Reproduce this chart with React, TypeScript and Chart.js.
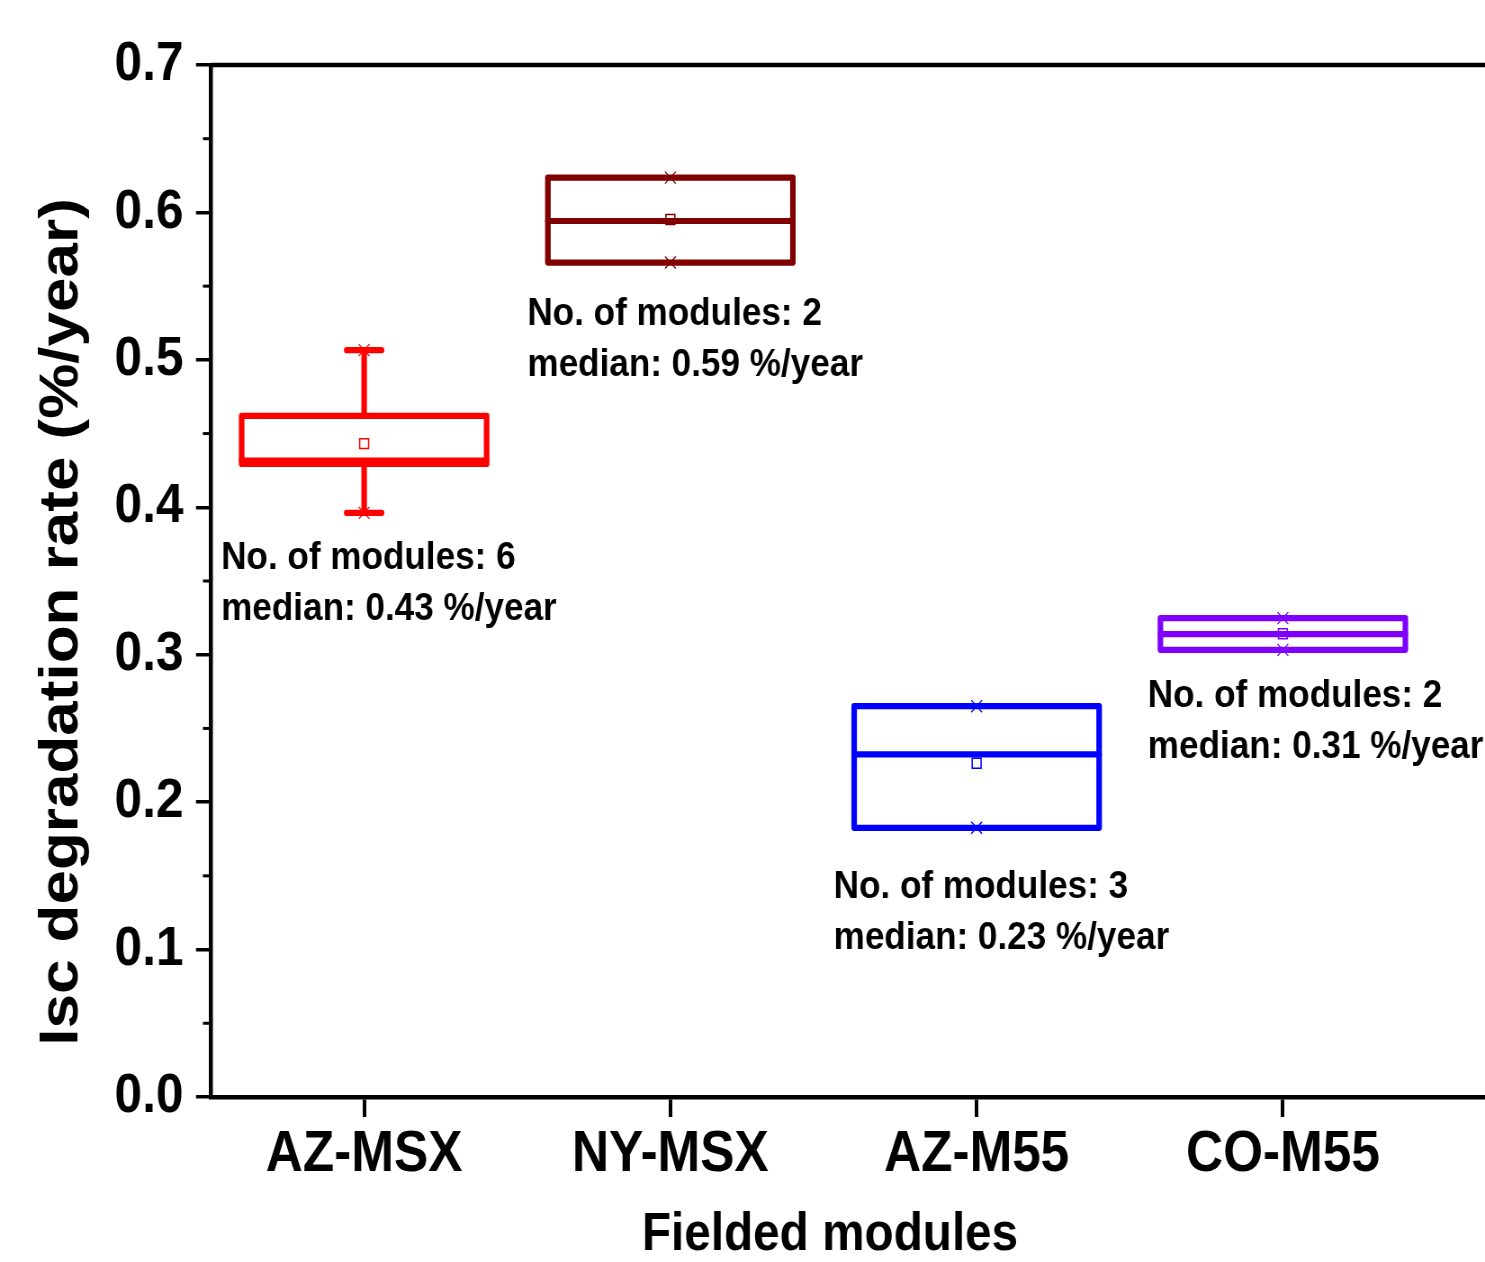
import { useEffect, useRef } from 'react';
import { Chart, registerables } from 'chart.js';

Chart.register(...registerables);

// ---- data ----
const categories = ['AZ-MSX', 'NY-MSX', 'AZ-M55', 'CO-M55'];
const q1Values = [0.4294, 0.566, 0.1826, 0.3033];
const medianValues = [0.4317, 0.5942, 0.2324, 0.3139];
const q3Values = [0.462, 0.6236, 0.2651, 0.3248];
const whiskerLow = [0.3962, 0.566, 0.1826, 0.3033];
const whiskerHigh = [0.5066, 0.6236, 0.2651, 0.3248];
const meanValues = [0.4432, 0.5952, 0.2264, 0.3142];
const minValues = [0.3962, 0.566, 0.1826, 0.3033];
const maxValues = [0.5066, 0.6236, 0.2651, 0.3248];
const moduleCounts = [6, 2, 3, 2];
const medianText = ['0.43', '0.59', '0.23', '0.31'];
const yTickValues = [0, 0.1, 0.2, 0.3, 0.4, 0.5, 0.6, 0.7];
const yMinorTicks = [0.05, 0.15, 0.25, 0.35, 0.45, 0.55, 0.65];
// annotation anchors (data space)
const noteX = [0.533, 1.533, 2.533, 3.559];
const noteY = [0.3582, 0.5238, 0.135, 0.2646];

const boxColors = ['#FF0000', '#800000', '#0000FF', '#8000FF'];

// ---- layout ----
const SX = 0.9; // reference is horizontally squeezed
const CSS_W = 1485;
const CSS_H = 1262;
const W = Math.round(CSS_W / SX);
const H = CSS_H;
const FONT = "'Liberation Sans', Arial, Helvetica, sans-serif";
const BOX_HALF = 0.4;
const CAP_HALF = 0.057;

export default function App() {
  const ref = useRef<HTMLCanvasElement>(null);

  useEffect(() => {
    const canvas = ref.current;
    if (!canvas) return;

    const boxPlugin = {
      id: 'boxPlot',
      beforeDatasetsDraw(chart: any) {
        const { ctx, scales } = chart;
        const x = scales.x;
        const y = scales.y;
        ctx.save();
        ctx.lineJoin = 'round';
        ctx.lineCap = 'round';
        categories.forEach((_, i) => {
          const c = i + 1;
          const xl = x.getPixelForValue(c - BOX_HALF);
          const xr = x.getPixelForValue(c + BOX_HALF);
          const xc = x.getPixelForValue(c);
          const yq1 = y.getPixelForValue(q1Values[i]);
          const yq3 = y.getPixelForValue(q3Values[i]);
          const ym = y.getPixelForValue(medianValues[i]);
          ctx.strokeStyle = boxColors[i];
          ctx.lineWidth = 6.2;
          // whiskers
          if (whiskerHigh[i] > q3Values[i] + 1e-6) {
            const yh = y.getPixelForValue(whiskerHigh[i]);
            ctx.beginPath();
            ctx.moveTo(xc, yq3);
            ctx.lineTo(xc, yh);
            ctx.moveTo(x.getPixelForValue(c - CAP_HALF), yh);
            ctx.lineTo(x.getPixelForValue(c + CAP_HALF), yh);
            ctx.stroke();
          }
          if (whiskerLow[i] < q1Values[i] - 1e-6) {
            const yl = y.getPixelForValue(whiskerLow[i]);
            ctx.beginPath();
            ctx.moveTo(xc, yq1);
            ctx.lineTo(xc, yl);
            ctx.moveTo(x.getPixelForValue(c - CAP_HALF), yl);
            ctx.lineTo(x.getPixelForValue(c + CAP_HALF), yl);
            ctx.stroke();
          }
          // box
          ctx.beginPath();
          ctx.rect(xl, yq3, xr - xl, yq1 - yq3);
          ctx.stroke();
          // median
          ctx.beginPath();
          ctx.moveTo(xl, ym);
          ctx.lineTo(xr, ym);
          ctx.stroke();
        });
        ctx.restore();
      },
      afterDraw(chart: any) {
        const { ctx, scales, chartArea } = chart;
        const x = scales.x;
        const y = scales.y;
        ctx.save();
        // top frame line
        ctx.strokeStyle = '#000';
        ctx.lineWidth = 4.5;
        ctx.beginPath();
        ctx.moveTo(chartArea.left, chartArea.top);
        ctx.lineTo(chartArea.right, chartArea.top);
        ctx.stroke();
        // minor ticks
        ctx.lineWidth = 3;
        yMinorTicks.forEach((v) => {
          const py = y.getPixelForValue(v);
          ctx.beginPath();
          ctx.moveTo(chartArea.left - 9, py);
          ctx.lineTo(chartArea.left, py);
          ctx.stroke();
        });
        // annotations
        ctx.fillStyle = '#000';
        ctx.font = `bold 39px ${FONT}`;
        ctx.textAlign = 'left';
        ctx.textBaseline = 'alphabetic';
        categories.forEach((_, i) => {
          const px = x.getPixelForValue(noteX[i]);
          const py = y.getPixelForValue(noteY[i]);
          ctx.fillText(`No. of modules: ${moduleCounts[i]}`, px, py);
          ctx.fillText(`median: ${medianText[i]} %/year`, px, py + 51);
        });
        // axis titles
        ctx.font = `bold 53px ${FONT}`;
        ctx.textAlign = 'center';
        ctx.fillText('Fielded modules', 830 / SX, 1250);
        ctx.save();
        ctx.translate(77 / SX, 622);
        ctx.rotate(-Math.PI / 2);
        ctx.font = `bold 62px ${FONT}`;
        ctx.textAlign = 'center';
        ctx.textBaseline = 'alphabetic';
        ctx.fillText('Isc degradation rate (%/year)', 0, 0);
        ctx.restore();
        ctx.restore();
      },
    };

    const chart = new Chart(canvas, {
      type: 'scatter',
      data: {
        datasets: [
          {
            label: 'mean',
            data: meanValues.map((v, i) => ({ x: i + 1, y: v })),
            pointStyle: 'rect',
            pointRadius: 7,
            pointBorderWidth: 1.5,
            pointBackgroundColor: 'rgba(0,0,0,0)',
            pointBorderColor: boxColors,
            showLine: false,
          },
          {
            label: 'max',
            data: maxValues.map((v, i) => ({ x: i + 1, y: v })),
            pointStyle: 'crossRot',
            pointRadius: 8.5,
            pointBorderWidth: 1.3,
            pointBorderColor: boxColors,
            showLine: false,
          },
          {
            label: 'min',
            data: minValues.map((v, i) => ({ x: i + 1, y: v })),
            pointStyle: 'crossRot',
            pointRadius: 8.5,
            pointBorderWidth: 1.3,
            pointBorderColor: boxColors,
            showLine: false,
          },
        ],
      },
      options: {
        animation: false,
        responsive: false,
        devicePixelRatio: 1,
        layout: { autoPadding: false, padding: { top: 65, left: 0, right: 0, bottom: 0 } },
        plugins: {
          legend: { display: false },
          tooltip: { enabled: false },
        },
        scales: {
          x: {
            type: 'linear',
            min: 0.5,
            max: 4.66,
            afterBuildTicks: (s: any) => {
              s.ticks = categories.map((_, i) => ({ value: i + 1 }));
            },
            afterFit: (s: any) => {
              s.height = H - 1097;
            },
            ticks: {
              autoSkip: false,
              maxRotation: 0,
              padding: 4,
              color: '#000',
              font: { family: FONT, size: 57, weight: 'bold' },
              callback: (v: any) => categories[Math.round(Number(v)) - 1] ?? '',
            },
            grid: {
              drawOnChartArea: false,
              drawTicks: true,
              tickLength: 20,
              tickWidth: 4,
              tickColor: '#000',
              color: '#000',
              lineWidth: 4,
            },
            border: { display: true, color: '#000', width: 4.5 },
          },
          y: {
            type: 'linear',
            min: 0,
            max: 0.7,
            afterBuildTicks: (s: any) => {
              s.ticks = yTickValues.map((v) => ({ value: v }));
            },
            afterFit: (s: any) => {
              s.width = 211 / SX;
            },
            ticks: {
              padding: 14,
              color: '#000',
              font: { family: FONT, size: 55, weight: 'bold' },
              callback: (v: any) => Number(v).toFixed(1),
            },
            grid: {
              drawOnChartArea: false,
              drawTicks: true,
              tickLength: 16.7,
              tickWidth: 3.5,
              tickColor: '#000',
              color: '#000',
              lineWidth: 3.5,
            },
            border: { display: true, color: '#000', width: 4.5 },
          },
        },
      } as any,
      plugins: [boxPlugin],
    });

    return () => {
      chart.destroy();
    };
  }, []);

  return (
    <div style={{ position: 'absolute', left: 0, top: 0, width: CSS_W, height: CSS_H, background: '#fff' }}>
      <canvas
        ref={ref}
        width={W}
        height={H}
        style={{ display: 'block', width: `${CSS_W}px`, height: `${CSS_H}px` }}
      />
    </div>
  );
}
